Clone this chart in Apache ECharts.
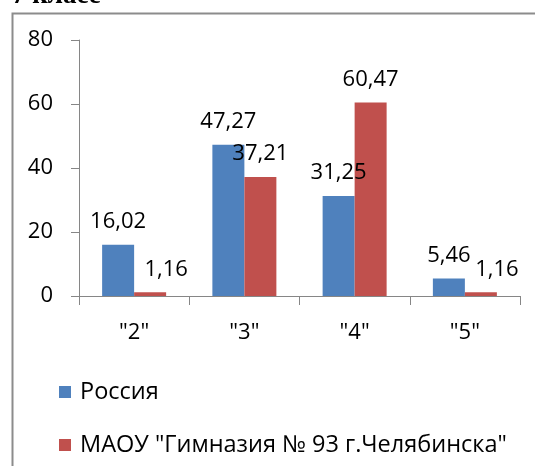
<!DOCTYPE html>
<html>
<head>
<meta charset="utf-8">
<script src="https://cdn.jsdelivr.net/npm/echarts@6/dist/echarts.min.js"></script>
<style>
html,body{margin:0;padding:0;background:#fff;}
#c{width:535px;height:466px;}
</style>
</head>
<body>
<div id="c"></div>
<script>
var categories = ['"2"', '"3"', '"4"', '"5"'];
var seriesNames = ['Россия', 'МАОУ "Гимназия № 93 г.Челябинска"'];
var russia = [16.02, 47.27, 31.25, 5.46];
var school = [1.16, 37.21, 60.47, 1.16];
var yTicks = [0, 20, 40, 60, 80];
var titleText = '7 класс';

var FONT = '"Open Sans", sans-serif';
var chart = echarts.init(document.getElementById('c'), null, {renderer: 'canvas'});

function fmt(p) { return String(p.value).replace('.', ','); }

var labelCfg = {
  show: true, position: 'top', distance: 12, formatter: fmt,
  color: '#000', fontFamily: FONT, fontSize: 22
};

// Small red-bar labels are nudged right (as in the original) to avoid the neighbour label
var schoolData = school.map(function (v) {
  return v < 3 ? {value: v, label: {offset: [16, 0]}} : v;
});

chart.setOption({
  animation: false,
  backgroundColor: '#fff',
  graphic: [
    {type: 'rect', left: 10, top: 11, shape: {x: 0, y: 0, width: 540, height: 470},
     style: {fill: 'none', stroke: '#8c8c8c', lineWidth: 2}, silent: true},
    {type: 'text', x: 12, y: 10,
     style: {text: titleText, font: 'bold 27px "Liberation Serif", serif', fill: '#000', verticalAlign: 'bottom'}}
  ],
  grid: {left: 79, right: 15, top: 40, bottom: 170, containLabel: false},
  legend: {
    orient: 'vertical', left: 54, top: 375, itemGap: 29,
    itemWidth: 12, itemHeight: 12, icon: 'rect',
    data: seriesNames,
    textStyle: {fontFamily: FONT, fontSize: 23.5, color: '#000', padding: [0, 0, 0, 4]}
  },
  xAxis: {
    type: 'category', data: categories,
    axisLine: {show: true, lineStyle: {color: '#868686', width: 1}},
    axisTick: {show: true, length: 9, inside: false, lineStyle: {color: '#868686'}},
    axisLabel: {color: '#000', fontFamily: FONT, fontSize: 22, margin: 26}
  },
  yAxis: {
    type: 'value', min: yTicks[0], max: yTicks[yTicks.length - 1], interval: 20,
    axisLine: {show: true, lineStyle: {color: '#868686', width: 1}},
    axisTick: {show: true, length: 8, lineStyle: {color: '#868686'}},
    splitLine: {show: false},
    axisLabel: {color: '#000', fontFamily: FONT, fontSize: 22, margin: 26}
  },
  series: [
    {name: seriesNames[0], type: 'bar', data: russia, barWidth: 32, barGap: '0%',
     itemStyle: {color: '#4F81BD'}, label: labelCfg},
    {name: seriesNames[1], type: 'bar', data: schoolData, barWidth: 32, barGap: '0%',
     itemStyle: {color: '#C0504D'}, label: labelCfg}
  ]
});
</script>
</body>
</html>
